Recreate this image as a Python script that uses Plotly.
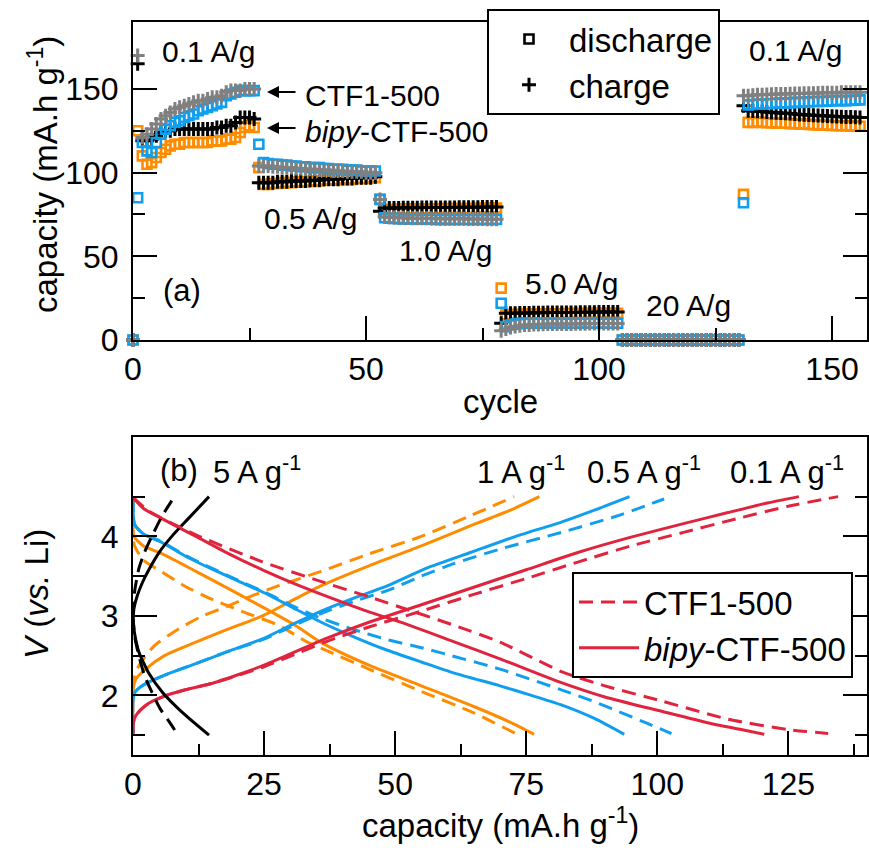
import plotly.graph_objects as go

W, H = 869, 850
FONT = "Liberation Sans, Arial, Helvetica, sans-serif"
ORANGE = "#FF8C00"
BLUE = "#109FEE"
GRAY = "#808080"
BLACK = "#000000"
RED = "#E0243E"

# ---------------- Panel (a): rate capability ----------------
cycles = list(range(0, 157))

# segments: cycle 0 | 0.1 A/g (1-26) | 0.5 (27-52) | 1.0 (53-78) | 5.0 (79-104) | 20 (105-130) | 0.1 (131-156)
ctf1_dis_seg = [
    [0],
    [85, 118, 113, 112, 118, 123, 126, 128, 130, 131, 133, 134, 135, 137, 138, 139, 140, 141, 142, 146, 147, 148, 149, 149, 149, 149],
    [117, 106, 105.5, 105, 105, 104.5, 104.5, 104, 104, 103.5, 103.5, 103, 103, 103, 102.5, 102.5, 102, 102, 102, 101.5, 101.5, 101.5, 101, 101, 101, 101],
    [84, 73, 72.8, 72.6, 72.5, 72.4, 72.4, 72.3, 72.3, 72.2, 72.2, 72.2, 72.1, 72.1, 72.1, 72, 72, 72, 72, 72, 72, 72, 72, 72, 72, 72],
    [22, 8, 9, 9.5, 9.8, 10, 10, 10.2, 10, 10, 10.2, 10, 10, 10.2, 10, 10, 10, 10.2, 10, 10, 10, 10.2, 10, 10, 10, 10],
    [0, 0, 0, 0, 0, 0, 0, 0, 0, 0, 0, 0, 0, 0, 0, 0, 0, 0, 0, 0, 0, 0, 0, 0, 0, 0],
    [82, 140.5, 140.7, 141, 141, 141.2, 141.3, 141.5, 141.5, 141.7, 141.8, 142, 142, 142.2, 142.3, 142.5, 142.5, 142.6, 142.7, 142.8, 143, 143, 143, 143.2, 143.3, 143.5],
]
ctf1_chg_seg = [
    [0],
    [170, 121, 123, 126, 129, 132, 134, 136, 138, 139, 140, 141, 142, 143, 143, 144, 145, 145, 146, 148, 149, 149, 149, 150, 150, 150],
    [104, 104, 104, 103.5, 103.5, 103, 103, 103, 102.5, 102.5, 102, 102, 102, 101.5, 101.5, 101.5, 101, 101, 101, 100.5, 100.5, 100.5, 100.5, 100, 100, 100],
    [84, 73.5, 73.3, 73.2, 73, 73, 72.9, 72.8, 72.8, 72.7, 72.7, 72.6, 72.6, 72.5, 72.5, 72.5, 72.4, 72.4, 72.4, 72.3, 72.3, 72.3, 72.3, 72.2, 72.2, 72.2],
    [5.5, 6.5, 7.5, 8, 8.5, 9, 9, 9.2, 9.3, 9.4, 9.5, 9.5, 9.5, 9.6, 9.6, 9.6, 9.7, 9.7, 9.7, 9.8, 9.8, 9.8, 9.8, 9.9, 9.9, 9.9],
    [0, 0, 0, 0, 0, 0, 0, 0, 0, 0, 0, 0, 0, 0, 0, 0, 0, 0, 0, 0, 0, 0, 0, 0, 0, 0],
    [146, 146, 146.3, 146.5, 146.5, 146.7, 146.8, 147, 147, 147, 147.2, 147.3, 147.3, 147.5, 147.5, 147.5, 147.6, 147.7, 147.7, 147.8, 147.8, 148, 148, 148, 148, 148],
]
bipy_dis_seg = [
    [0],
    [125, 110, 105, 106, 109, 112, 114, 116, 117, 117, 118, 118, 118, 118, 118, 118, 119, 119, 119, 120, 120, 121, 124, 127, 128, 127],
    [103, 93, 93, 93.5, 93.5, 94, 94, 94, 94.5, 94.5, 94.5, 95, 95, 95, 95.5, 95.5, 95.5, 96, 96, 96, 96, 96.5, 96.5, 96.5, 97, 97],
    [84, 78, 78, 78, 78.2, 78.2, 78.2, 78.3, 78.3, 78.3, 78.4, 78.4, 78.4, 78.5, 78.5, 78.5, 78.5, 78.5, 78.6, 78.6, 78.6, 78.7, 78.7, 78.7, 78.8, 78.8],
    [31, 15, 15.2, 15.3, 15.4, 15.5, 15.5, 15.5, 15.6, 15.6, 15.6, 15.7, 15.7, 15.7, 15.8, 15.8, 15.8, 15.8, 15.9, 15.9, 15.9, 16, 16, 16, 16, 16],
    [0, 0, 0, 0, 0, 0, 0, 0, 0, 0, 0, 0, 0, 0, 0, 0, 0, 0, 0, 0, 0, 0, 0, 0, 0, 0],
    [87, 130, 130, 130.2, 130, 129.8, 129.8, 129.6, 129.5, 129.5, 129.3, 129.2, 129, 129, 128.8, 128.7, 128.5, 128.5, 128.3, 128.2, 128, 128, 128, 127.8, 127.8, 127.7],
]
bipy_chg_seg = [
    [0],
    [165, 119, 119, 120, 122, 124, 125, 125, 126, 126, 126, 126, 126, 126, 126, 126, 126, 127, 127, 128, 128, 130, 133, 133, 133, 132],
    [94, 94, 94, 94, 94.5, 94.5, 94.5, 95, 95, 95, 95, 95.5, 95.5, 95.5, 96, 96, 96, 96, 96.5, 96.5, 96.5, 97, 97, 97, 97, 97.5],
    [77, 78.8, 78.8, 78.9, 78.9, 79, 79, 79, 79, 79.1, 79.1, 79.1, 79.1, 79.2, 79.2, 79.2, 79.2, 79.3, 79.3, 79.3, 79.3, 79.3, 79.4, 79.4, 79.4, 79.4],
    [10, 16, 16, 16, 16.2, 16.2, 16.2, 16.3, 16.3, 16.3, 16.4, 16.4, 16.4, 16.5, 16.5, 16.5, 16.5, 16.6, 16.6, 16.6, 16.6, 16.7, 16.7, 16.7, 16.7, 16.8],
    [0, 0, 0, 0, 0, 0, 0, 0, 0, 0, 0, 0, 0, 0, 0, 0, 0, 0, 0, 0, 0, 0, 0, 0, 0, 0],
    [140, 137, 136.8, 136.6, 136.5, 136.3, 136, 135.8, 135.6, 135.5, 135.3, 135, 134.8, 134.6, 134.5, 134.3, 134.1, 134, 133.8, 133.7, 133.5, 133.4, 133.3, 133.2, 133.1, 133],
]

def join(segs):
    out = []
    for s in segs:
        out += s
    return out

ctf1_dis = join(ctf1_dis_seg)
ctf1_chg = join(ctf1_chg_seg)
bipy_dis = join(bipy_dis_seg)
bipy_chg = join(bipy_chg_seg)

# ---------------- Panel (b): voltage profiles ----------------
# bipy-CTF-500 (solid)
b01_chg_cap = [0, 0, 0.5, 1.5, 3, 6, 10, 15, 20, 25, 31, 37, 45, 55, 65, 75, 85, 95, 105, 113.5, 121, 127]
b01_chg_v = [1.52, 1.64, 1.74, 1.82, 1.9, 1.99, 2.07, 2.15, 2.26, 2.38, 2.55, 2.72, 2.92, 3.14, 3.36, 3.58, 3.8, 3.99, 4.16, 4.3, 4.42, 4.5]
b01_dis_cap = [0, 2, 5.6, 12, 18.3, 25, 31, 38, 45, 52, 61, 70, 81.7, 90, 100.8, 110, 116, 120.4]
b01_dis_v = [4.49, 4.35, 4.22, 4.0, 3.78, 3.57, 3.4, 3.22, 3.05, 2.9, 2.68, 2.46, 2.16, 1.98, 1.8, 1.65, 1.57, 1.51]
b05_chg_cap = [0, 0, 0.5, 1.5, 3.1, 7, 12, 18, 24.7, 30, 35.9, 42, 48.6, 56, 64.5, 73, 81.7, 88, 94.7]
b05_chg_v = [1.52, 1.95, 2.05, 2.11, 2.17, 2.28, 2.4, 2.55, 2.71, 2.88, 3.06, 3.22, 3.38, 3.6, 3.8, 4.0, 4.18, 4.33, 4.5]
b05_dis_cap = [0, 0.3, 2, 5.6, 10, 15, 20, 24.7, 30, 35.9, 42, 48, 55, 61.3, 70, 76, 81.7, 88, 93.7]
b05_dis_v = [4.49, 4.15, 4.03, 3.92, 3.75, 3.59, 3.44, 3.3, 3.12, 2.92, 2.74, 2.58, 2.42, 2.28, 2.12, 2.0, 1.88, 1.71, 1.51]
b1_chg_cap = [0, 0, 0.5, 2.4, 6, 12, 18, 24.7, 30, 35.9, 45, 55, 65, 72, 77.5]
b1_chg_v = [1.52, 2.05, 2.2, 2.33, 2.5, 2.67, 2.83, 3.0, 3.18, 3.38, 3.63, 3.88, 4.15, 4.33, 4.5]
b1_dis_cap = [0, 0.2, 2, 5.6, 12, 18.3, 25, 31, 36, 45, 55, 65, 72, 76.5]
b1_dis_v = [4.49, 4.0, 3.88, 3.78, 3.56, 3.34, 3.1, 2.88, 2.66, 2.38, 2.12, 1.86, 1.66, 1.51]
b5_chg_cap = [0, 0.2, 0.8, 1.8, 3.1, 5, 7.4, 10.5, 14.5]
b5_chg_v = [2.96, 3.1, 3.25, 3.42, 3.59, 3.8, 4.0, 4.22, 4.5]
b5_dis_cap = [0, 0.3, 1.1, 3, 5.6, 9.5, 14.5]
b5_dis_v = [2.96, 2.78, 2.55, 2.28, 2.04, 1.78, 1.5]

# CTF1-500 (dashed)
c01_chg_cap = [0, 0, 0.5, 1.5, 3, 6, 10, 15, 20, 25, 31, 37, 45, 55, 65, 75, 85, 95, 105, 115, 125, 134.5]
c01_chg_v = [1.52, 1.64, 1.74, 1.82, 1.9, 1.99, 2.07, 2.15, 2.25, 2.36, 2.52, 2.68, 2.86, 3.06, 3.27, 3.47, 3.68, 3.88, 4.05, 4.22, 4.38, 4.5]
c01_dis_cap = [0, 3, 12, 24.7, 35.5, 45, 55, 61.3, 70, 81.7, 90, 100.8, 113.5, 125, 132.6]
c01_dis_v = [4.49, 4.32, 4.02, 3.68, 3.44, 3.24, 3.02, 2.88, 2.67, 2.3, 2.12, 1.93, 1.7, 1.57, 1.52]
c05_chg_cap = [0, 0, 0.5, 1.5, 3.1, 7, 12, 18, 24.7, 30, 35.9, 42, 48.6, 55, 61.3, 70, 81.7, 92, 101.3]
c05_chg_v = [1.52, 1.95, 2.05, 2.11, 2.17, 2.28, 2.4, 2.55, 2.7, 2.86, 3.03, 3.18, 3.32, 3.5, 3.66, 3.84, 4.05, 4.25, 4.47]
c05_dis_cap = [0, 0.3, 2, 5.6, 10, 15, 20, 25.7, 30, 35.9, 42, 48, 55, 60.7, 70, 81.7, 88, 92.5, 98, 102.7]
c05_dis_v = [4.49, 4.15, 4.03, 3.93, 3.76, 3.6, 3.45, 3.28, 3.14, 2.97, 2.83, 2.71, 2.6, 2.5, 2.33, 2.07, 1.92, 1.8, 1.65, 1.52]
c1_chg_cap = [0, 0, 0.3, 1.1, 4, 8.8, 13, 18.3, 23, 27.8, 35.9, 45, 55, 64, 72.7]
c1_chg_v = [1.52, 2.1, 2.25, 2.37, 2.62, 2.84, 2.99, 3.13, 3.26, 3.38, 3.56, 3.78, 4.0, 4.25, 4.5]
c1_dis_cap = [0, 0.2, 2, 5.6, 10, 15, 21, 27.8, 33, 37.4, 45, 55, 65, 73]
c1_dis_v = [4.49, 3.9, 3.7, 3.55, 3.37, 3.21, 3.05, 2.88, 2.68, 2.55, 2.33, 2.05, 1.78, 1.52]
c5_chg_cap = [0, 0.3, 1.1, 2.2, 3.6, 5.5, 7.4]
c5_chg_v = [3.0, 3.3, 3.59, 3.8, 4.0, 4.25, 4.45]
c5_dis_cap = [0, 0.3, 1.1, 2.2, 3.6, 5.2, 6.9, 8.4]
c5_dis_v = [3.0, 2.75, 2.5, 2.25, 2.04, 1.83, 1.67, 1.52]

# ---------------- helpers ----------------
def px(x):
    return x / W

def py(y):
    return 1 - y / H

DASH = "14px,8px"
fig = go.Figure()

# panel (a) markers: order orange squares, black +, blue squares, gray +
def sq_trace(y, color):
    return go.Scatter(x=cycles, y=y, mode="markers", xaxis="x", yaxis="y", cliponaxis=False,
                      showlegend=False,
                      marker=dict(symbol="square-open", size=9, color=color,
                                  line=dict(width=2.6, color=color)))

def plus_trace(y, color):
    return go.Scatter(x=cycles, y=y, mode="markers", xaxis="x", yaxis="y", cliponaxis=False,
                      showlegend=False,
                      marker=dict(symbol="cross-thin", size=10, color=color,
                                  line=dict(width=3, color=color)))

fig.add_trace(sq_trace(bipy_dis, ORANGE))
fig.add_trace(plus_trace(bipy_chg, BLACK))
fig.add_trace(sq_trace(ctf1_dis, BLUE))
fig.add_trace(plus_trace(ctf1_chg, GRAY))

# legend (a)
fig.add_trace(go.Scatter(x=[None], y=[None], mode="markers", xaxis="x", yaxis="y", name="discharge",
                         legend="legend",
                         marker=dict(symbol="square-open", size=9, color=BLACK, line=dict(width=2.6, color=BLACK))))
fig.add_trace(go.Scatter(x=[None], y=[None], mode="markers", xaxis="x", yaxis="y", name="charge",
                         legend="legend",
                         marker=dict(symbol="cross-thin", size=10, color=BLACK, line=dict(width=3, color=BLACK))))

# panel (b) lines
def line_trace(xs, ys, color, dash, name=None, show=False):
    return go.Scatter(x=xs, y=ys, mode="lines", xaxis="x2", yaxis="y2",
                      line=dict(color=color, width=3, dash=dash, shape="spline", smoothing=0.6),
                      name=name, showlegend=show, legend="legend2")

curves = [
    (b1_chg_cap, b1_chg_v, ORANGE, "solid"), (b1_dis_cap, b1_dis_v, ORANGE, "solid"),
    (c1_chg_cap, c1_chg_v, ORANGE, DASH), (c1_dis_cap, c1_dis_v, ORANGE, DASH),
    (b05_chg_cap, b05_chg_v, BLUE, "solid"), (b05_dis_cap, b05_dis_v, BLUE, "solid"),
    (c05_chg_cap, c05_chg_v, BLUE, DASH), (c05_dis_cap, c05_dis_v, BLUE, DASH),
    (b01_chg_cap, b01_chg_v, RED, "solid"), (b01_dis_cap, b01_dis_v, RED, "solid"),
    (c01_chg_cap, c01_chg_v, RED, DASH),
    (b5_chg_cap, b5_chg_v, BLACK, "solid"), (b5_dis_cap, b5_dis_v, BLACK, "solid"),
    (c5_chg_cap, c5_chg_v, BLACK, DASH), (c5_dis_cap, c5_dis_v, BLACK, DASH),
]
for xs, ys, c, d in curves:
    fig.add_trace(line_trace(xs, ys, c, d))
fig.add_trace(line_trace(c01_dis_cap, c01_dis_v, RED, DASH, name="CTF1-500", show=True))
fig.add_trace(go.Scatter(x=[None], y=[None], mode="lines", xaxis="x2", yaxis="y2",
                         line=dict(color=RED, width=3), name="<i>bipy</i>-CTF-500",
                         showlegend=True, legend="legend2"))

axis_common = dict(showline=True, linecolor=BLACK, linewidth=2, ticks="inside", tickwidth=2,
                   tickcolor=BLACK, ticklen=24, showgrid=False, zeroline=False, automargin=False,
                   tickfont=dict(family=FONT, size=32, color=BLACK))

fig.update_layout(
    width=W, height=H, margin=dict(l=0, r=0, t=0, b=0),
    paper_bgcolor="white", plot_bgcolor="white",
    font=dict(family=FONT, color=BLACK),
    xaxis=dict(domain=[px(133), px(867)], anchor="y", range=[0, 157.5], mirror=True,
               tickvals=[0, 50, 100, 150],
               minor=dict(tickvals=[25, 75, 125], ticks="inside", ticklen=12, tickwidth=2, tickcolor=BLACK),
               **axis_common),
    yaxis=dict(domain=[py(340), py(22)], anchor="x", range=[0, 190], mirror="ticks",
               tickvals=[0, 50, 100, 150], ticklabelstandoff=6,
               minor=dict(tickvals=[25, 75, 125], ticks="inside", ticklen=12, tickwidth=2, tickcolor=BLACK),
               **axis_common),
    xaxis2=dict(domain=[px(133), px(867)], anchor="y2", range=[0, 140], mirror=True,
                tickvals=[0, 25, 50, 75, 100, 125],
                minor=dict(tickvals=[12.5, 37.5, 62.5, 87.5, 112.5, 137.5], ticks="inside", ticklen=11,
                           tickwidth=2, tickcolor=BLACK),
                **axis_common),
    yaxis2=dict(domain=[py(755), py(437)], anchor="x2", range=[1.25, 5.25], mirror="ticks",
                tickvals=[2, 3, 4], ticklabelstandoff=6,
                minor=dict(tickvals=[1.5, 2.5, 3.5, 4.5], ticks="inside", ticklen=12, tickwidth=2, tickcolor=BLACK),
                **axis_common),
    legend=dict(x=px(487), y=py(9), xanchor="left", yanchor="top", bgcolor="white",
                bordercolor=BLACK, borderwidth=2, itemwidth=70,
                font=dict(family=FONT, size=33, color=BLACK)),
    legend2=dict(x=px(572), y=py(572), xanchor="left", yanchor="top", bgcolor="white",
                 bordercolor=BLACK, borderwidth=2, itemwidth=60,
                 font=dict(family=FONT, size=33, color=BLACK)),
)

ANN = 30
def text(x, y, s, size=ANN, xanchor="center", angle=0):
    fig.add_annotation(x=px(x), y=py(y), xref="paper", yref="paper", text=s, showarrow=False,
                       xanchor=xanchor, yanchor="middle", textangle=angle,
                       font=dict(family=FONT, size=size, color=BLACK))

def arrow(x_tip, y, length):
    fig.add_annotation(x=px(x_tip), y=py(y), xref="paper", yref="paper", text="",
                       showarrow=True, ax=length, ay=0, axref="pixel", ayref="pixel",
                       arrowhead=2, arrowsize=1.2, arrowwidth=2, arrowcolor=BLACK)

# panel (a) texts
text(208, 52, "0.1 A/g")
text(795, 50, "0.1 A/g")
text(303, 96, "CTF1-500", xanchor="left")
text(303, 132, "<i>bipy</i>-CTF-500", xanchor="left")
arrow(267, 92, 30)
arrow(267, 128, 30)
text(310, 219, "0.5 A/g")
text(445, 250, "1.0 A/g")
text(182, 290, "(a)", size=31)
text(571, 283, "5.0 A/g")
text(688, 305, "20 A/g")
# axis titles
text(500, 402, "cycle", size=33)
text(43, 175, "capacity (mA.h g<sup>-1</sup>)", size=33, angle=-90)

# panel (b) texts
text(158, 470, "(b)", size=31, xanchor="left")
text(211, 470, "5 A g<sup>-1</sup>", size=31, xanchor="left")
text(475, 470, "1 A g<sup>-1</sup>", size=31, xanchor="left")
text(585, 470, "0.5 A g<sup>-1</sup>", size=31, xanchor="left")
text(728, 470, "0.1 A g<sup>-1</sup>", size=31, xanchor="left")
text(500, 823, "capacity (mA.h g<sup>-1</sup>)", size=33)
text(36, 594, "<i>V</i> (<i>vs.</i> Li)", size=33, angle=-90)

fig.write_html("out.html", config={"displayModeBar": False},
               post_script="document.body.style.margin='0';document.body.style.padding='0';document.body.style.overflow='hidden';")
